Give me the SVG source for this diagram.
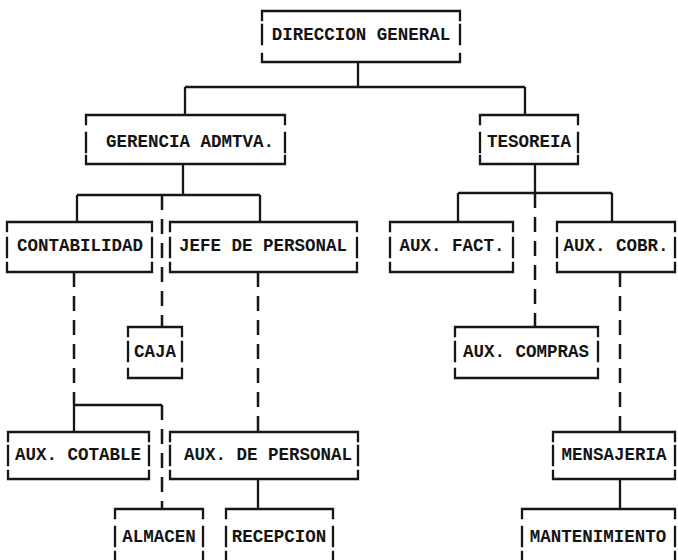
<svg xmlns="http://www.w3.org/2000/svg" width="678" height="560" viewBox="0 0 678 560">
<style>
.b{fill:none;stroke:#161616;stroke-width:2.3;stroke-linecap:square}
.c{fill:none;stroke:#161616;stroke-width:2.3}
.d{fill:none;stroke:#161616;stroke-width:2.5;stroke-dasharray:15 9}
.t{font-family:"Liberation Mono","DejaVu Sans Mono",monospace;font-weight:bold;font-size:17.5px;fill:#141414;text-anchor:middle}
</style>
<rect width="678" height="560" fill="#ffffff"/>
<g id="connectors">
<path class="c" d="M358 62V87M185 87H525M185 87V115M525 87V115"/>
<path class="c" d="M183 164V195M77 195H260M77 195V222M260 195V222"/>
<path class="d" d="M162 195V327"/>
<path class="c" d="M535 164V193M458 193H612M458 193V222M612 193V222"/>
<path class="d" d="M535 193V327"/>
<path class="d" d="M74 272V405"/>
<path class="c" d="M74 405H162M74 405V432"/>
<path class="d" d="M162 405V508"/>
<path class="d" d="M258 272V432"/>
<path class="c" d="M258 479V508"/>
<path class="d" d="M620 272V432"/>
<path class="c" d="M620 479V508"/>
</g>
<g id="direccion">
<path class="b" d="M262 20V11H460V20M262 25V44M460 25V44M262 54V62H460V54"/>
<text class="t" x="361" y="40">DIRECCION GENERAL</text>
</g>
<g id="gerencia">
<path class="b" d="M86 124V115H285V124M86 133V152M285 133V152M86 156V164H285V156"/>
<text class="t" x="190" y="147">GERENCIA ADMTVA.</text>
</g>
<g id="tesoreria">
<path class="b" d="M480 124V115H578V124M480 133V152M578 133V152M480 156V164H578V156"/>
<text class="t" x="529" y="147">TESOREIA</text>
</g>
<g id="contabilidad">
<path class="b" d="M7 231V222H152V231M7 238V257M152 238V257M7 263V272H152V263"/>
<text class="t" x="80" y="251">CONTABILIDAD</text>
</g>
<g id="jefe-personal">
<path class="b" d="M170 231V222H357V231M170 238V257M357 238V257M170 263V272H357V263"/>
<text class="t" x="263" y="251">JEFE DE PERSONAL</text>
</g>
<g id="aux-fact">
<path class="b" d="M390 231V222H513V231M390 238V257M513 238V257M390 263V272H513V263"/>
<text class="t" x="452" y="251">AUX. FACT.</text>
</g>
<g id="aux-cobr">
<path class="b" d="M557 231V222H675V231M557 238V257M675 238V257M557 263V272H675V263"/>
<text class="t" x="616" y="251">AUX. COBR.</text>
</g>
<g id="caja">
<path class="b" d="M128 336V327H182V336M128 342V361M182 342V361M128 369V378H182V369"/>
<text class="t" x="155" y="357">CAJA</text>
</g>
<g id="aux-compras">
<path class="b" d="M455 336V327H598V336M455 342V361M598 342V361M455 369V378H598V369"/>
<text class="t" x="526" y="357">AUX. COMPRAS</text>
</g>
<g id="aux-cotable">
<path class="b" d="M8 441V432H149V441M8 446V465M149 446V465M8 471V479H149V471"/>
<text class="t" x="78" y="460">AUX. COTABLE</text>
</g>
<g id="aux-personal">
<path class="b" d="M170 441V432H358V441M170 446V465M358 446V465M170 471V479H358V471"/>
<text class="t" x="268" y="460">AUX. DE PERSONAL</text>
</g>
<g id="mensajeria">
<path class="b" d="M553 441V432H675V441M553 446V465M675 446V465M553 471V479H675V471"/>
<text class="t" x="614" y="460">MENSAJERIA</text>
</g>
<g id="almacen">
<path class="b" d="M115 518V509H203V518M115 527V546M203 527V546M115 552V560M203 552V560"/>
<text class="t" x="159" y="542">ALMACEN</text>
</g>
<g id="recepcion">
<path class="b" d="M226 518V509H333V518M226 527V546M333 527V546M226 552V560M333 552V560"/>
<text class="t" x="279" y="542">RECEPCION</text>
</g>
<g id="mantenimiento">
<path class="b" d="M522 518V509H675V518M522 527V546M675 527V546M522 552V560M675 552V560"/>
<text class="t" x="598" y="542">MANTENIMIENTO</text>
</g>
</svg>
